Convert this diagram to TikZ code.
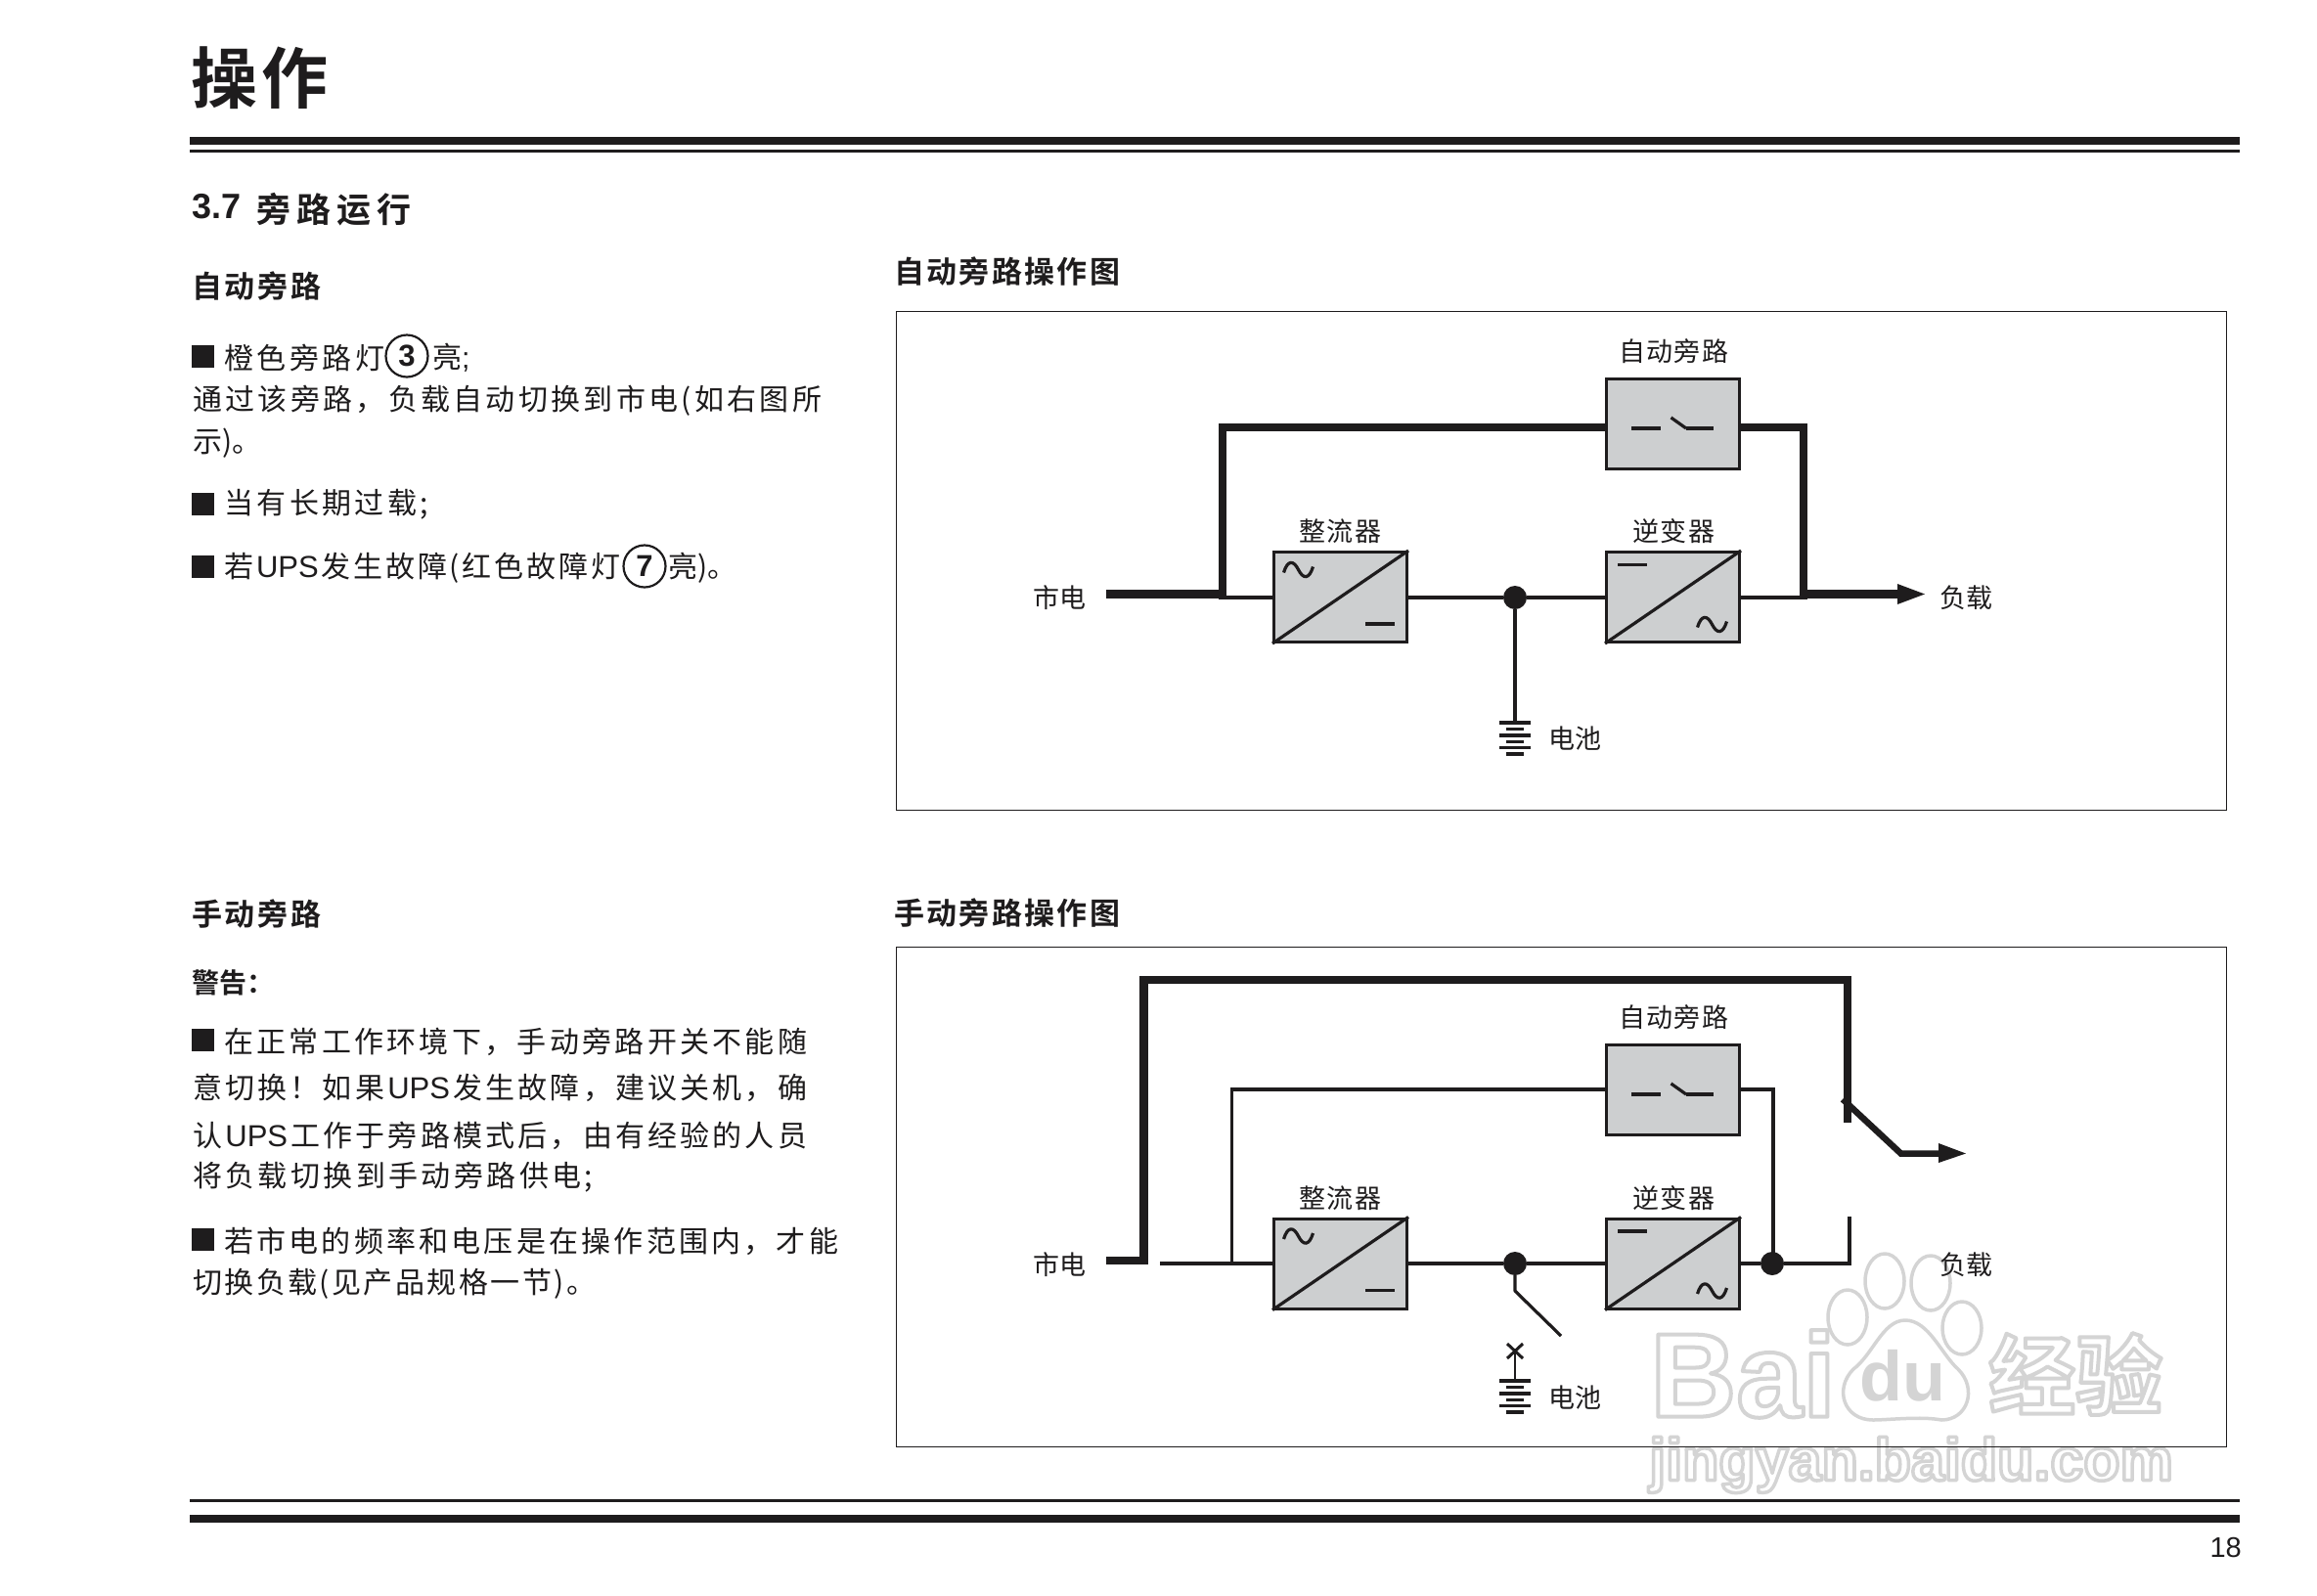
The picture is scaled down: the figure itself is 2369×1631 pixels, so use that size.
\documentclass[tikz,border=0pt]{standalone}
\usepackage{fontspec}
\setmainfont{Liberation Sans}
\newfontfamily\cjk{Noto Sans CJK SC}
\newfontfamily\cjkb{Noto Sans CJK SC Bold}
\newfontfamily\latb{Liberation Sans Bold}
\definecolor{ink}{RGB}{30,28,29}
\definecolor{boxgray}{RGB}{205,207,208}
\definecolor{wm}{RGB}{212,212,212}
\def\spreadit#1{\spreadA#1\relax}
\def\spreadA#1{#1\spreadB}
\def\spreadB#1{\ifx#1\relax\else\hskip 0pt plus 1fil\relax#1\expandafter\spreadB\fi}
\newcommand{\fcm}{\char"FF0C\relax}
\newcommand{\fex}{\char"FF01\relax}
\newcommand{\fco}{\char"FF1A\relax}
\newcommand{\tl}[5]{\node[anchor=west,inner sep=0pt,text=ink] (#1) at (#2,#3) {\fontsize{30}{30}\selectfont\cjk\makebox[#4pt][s]{\spreadit{#5}}};}
\newcommand{\hd}[5]{\node[anchor=west,inner sep=0pt,text=ink] (#1) at (#2,#3) {\fontsize{31}{31}\selectfont\cjkb\makebox[#4pt][s]{\spreadit{#5}}};}
\newcommand{\ups}{{\fontsize{31}{31}\selectfont\rmfamily UPS}}
\newcommand{\lb}[2]{\makebox[#1pt][s]{\spreadit{#2}}}
\newcommand{\sinewave}[2]{\draw[wire] (#1-15,#2+3) .. controls (#1-11,#2-10) and (#1-5,#2-10) .. (#1,#2) .. controls (#1+5,#2+10) and (#1+11,#2+10) .. (#1+15,#2-3);}
\newcommand{\wmtext}[6]{% name, x, y, size, stroke width, font+text : white text with a grey stroked rim
  \node[inner sep=0pt,text=white,anchor=west] (#1) at (#2,#3) {\fontsize{#4}{#4}\selectfont
    \special{pdf:code q 2 Tr #5 w 1 j 0.83 0.83 0.83 RG}#6\special{pdf:code Q}};}
\tikzset{
  x=1pt,y=-1pt,
  wire/.style={draw=ink,line width=3.2pt},
  thick wire/.style={draw=ink,line width=8.5pt,line cap=butt,line join=miter},
  unitbox/.style={draw=ink,fill=boxgray,line width=3pt,minimum width=136pt,minimum height=92pt,inner sep=0pt},
  lab/.style={inner sep=0pt,text=ink,font=\fontsize{27}{27}\selectfont\cjk},
  jn/.style={circle,fill=ink,draw=none,minimum size=24pt,inner sep=0pt},
  frameb/.style={draw=ink,line width=1.2pt,fill=none},
  sq/.style={fill=ink,draw=none,minimum size=23pt,inner sep=0pt},
  num/.style={circle,draw=ink,line width=2.2pt,minimum size=43pt,inner sep=0pt,text=ink,font=\fontsize{31}{31}\selectfont\latb},
  rule/.style={fill=ink,draw=none},
  bar/.style={draw=ink,line width=3.2pt},
  paw/.style={draw=wm,line width=3.5pt,fill=white},
}
\newcommand{\batt}[2]{%
  \draw[bar] (#1-16,#2) -- (#1+16,#2);
  \draw[bar] (#1-9,#2+6.3) -- (#1+9,#2+6.3);
  \draw[bar] (#1-16,#2+13) -- (#1+16,#2+13);
  \draw[bar] (#1-9,#2+19.3) -- (#1+9,#2+19.3);
  \draw[bar] (#1-16,#2+25.5) -- (#1+16,#2+25.5);
  \draw[bar] (#1-9,#2+32) -- (#1+9,#2+32);}
\newcommand{\units}[3]{% y of switch, y of converters, suffix
  \node[unitbox] (sw#3) at (1710.5,#1) {};
  \node[unitbox] (re#3) at (1370.5,#2) {};
  \node[unitbox] (iv#3) at (1710.5,#2) {};
  \draw[wire] (re#3.south west) -- (re#3.north east);
  \draw[wire] (iv#3.south west) -- (iv#3.north east);
  \draw[wire] (1668,#1+5) -- (1698,#1+5);
  \draw[wire] (1724,#1+5) -- (1752,#1+5);
  \draw[wire] (1708.5,#1-6) -- (1724,#1+5);
  \sinewave{1327.5}{#2-28}
  \draw[wire] (1396,#2+27.5) -- (1426,#2+27.5);
  \draw[wire] (1654,#2-33) -- (1684,#2-33);
  \sinewave{1750.5}{#2+28}
  \node[lab] (ls#3) at (1711,#1-74) {\lb{112}{自动旁路}};
  \node[lab] (lr#3) at (1370,#2-67) {\lb{84}{整流器}};
  \node[lab] (li#3) at (1711,#2-67) {\lb{84}{逆变器}};
  \node[lab] (lm#3) at (1083,#2+1) {\lb{54}{市电}};
  \node[lab] (ll#3) at (2010,#2+1) {\lb{54}{负载}};}
\begin{document}
\begin{tikzpicture}
\useasboundingbox (0,0) rectangle (2369,1631);
\fill[white] (0,0) rectangle (2369,1631);
% ---- watermark (lies under everything else)
\foreach \a/\b/\w/\h in {1927/1310/20/28, 1974/1312/20/28, 1889/1347/20/28, 2006/1358/20/27}
  \draw[paw] (\a,\b) ellipse ({\w pt} and {\h pt});
\draw[paw] (1948,1350) .. controls (1925,1350) and (1915,1385) .. (1895,1400) .. controls (1875,1420) and (1885,1452) .. (1915,1452) .. controls (1930,1452) and (1965,1448) .. (1985,1452) .. controls (2012,1452) and (2022,1420) .. (2002,1400) .. controls (1985,1385) and (1972,1350) .. (1948,1350) -- cycle;
\wmtext{wmBai}{1687}{1405}{122}{4}{\latb Bai}
\node[inner sep=0pt,text=wm,anchor=west] (wmdu) at (1901,1407) {\fontsize{72}{72}\selectfont\latb du};
\wmtext{wmjy}{2033}{1405}{89}{4}{\cjkb 经验}
\wmtext{wmurl}{1686}{1498}{61}{3.5}{\latb jingyan.baidu.com}
% page furniture
\node[anchor=west,inner sep=0pt,text=ink] (title) at (195,80) {\fontsize{68}{68}\selectfont\cjkb\makebox[140pt][s]{\spreadit{操作}}};
\fill[rule] (194,140) rectangle (2290,148);
\fill[rule] (194,153) rectangle (2290,156);
\fill[rule] (194,1533) rectangle (2290,1536);
\fill[rule] (194,1549) rectangle (2290,1557);
\node[anchor=east,inner sep=0pt,text=ink,font=\fontsize{29}{29}\selectfont] (pageno) at (2292,1582) {18};
\node[anchor=west,inner sep=0pt,text=ink,font=\fontsize{36}{36}\selectfont\latb] (secnum) at (196,211) {3.7};
\node[anchor=west,inner sep=0pt,text=ink] (sec) at (262,214) {\fontsize{35}{35}\selectfont\cjkb\makebox[158pt][s]{\spreadit{旁路运行}}};
\hd{h1}{196}{292}{132}{自动旁路}
\hd{h2}{914}{278}{231}{自动旁路操作图}
\hd{h3}{196}{934}{132}{手动旁路}
\hd{h4}{914}{934}{231}{手动旁路操作图}
\node[anchor=west,inner sep=0pt,text=ink] (warn) at (196,1005) {\fontsize{28}{28}\selectfont\cjkb\makebox[84pt][s]{\spreadit{警告\fco}}};
% left text, upper
\node[sq] (s1) at (207.5,364.5) {};
\tl{a1}{229}{366}{164}{橙色旁路灯}
\node[num] (n3) at (416,364) {3};
\node[anchor=west,inner sep=0pt,text=ink] (a1b) at (442,366) {\fontsize{30}{30}\selectfont\cjk 亮\rmfamily;};
\tl{a2}{197}{410}{643}{通过该旁路\fcm 负载自动切换到市电(如右图所}
\tl{a3}{197}{453}{65}{示)。}
\node[sq] (s2) at (207.5,515) {};
\tl{a4}{229}{516}{209}{当有长期过载;}
\node[sq] (s3) at (207.5,579) {};
\tl{a5}{229}{581}{405}{若\ups 发生故障(红色故障灯}
\node[num] (n7) at (659,579) {7};
\tl{a5b}{683}{581}{58}{亮)。}
% left text, lower
\node[sq] (s4) at (207.5,1063) {};
\tl{b1}{229}{1065}{596}{在正常工作环境下\fcm 手动旁路开关不能随}
\tl{b2}{197}{1112}{628}{意切换\fex 如果\ups 发生故障\fcm 建议关机\fcm 确}
\tl{b3}{197}{1161}{628}{认\ups 工作于旁路模式后\fcm 由有经验的人员}
\tl{b4}{197}{1204}{409}{将负载切换到手动旁路供电;}
\node[sq] (s5) at (207.5,1267) {};
\tl{b5}{229}{1269}{628}{若市电的频率和电压是在操作范围内\fcm 才能}
\tl{b6}{197}{1313}{412}{切换负载(见产品规格一节)。}
% frames
\node[frameb,anchor=north west,minimum width=1360pt,minimum height=510pt,inner sep=0pt] (f1) at (916,318) {};
\node[frameb,anchor=north west,minimum width=1360pt,minimum height=511pt,inner sep=0pt] (f2) at (916,968) {};
% ---- automatic diagram
\node[jn] (d1) at (1549,611) {};
\coordinate (mainsA) at (1131,607.5);
\coordinate (tapA) at (1249.5,611);
\coordinate (tapB) at (1843.5,611);
\coordinate (outA) at (1968,607.5);
\coordinate (batA) at (1549,738);
\draw[wire] (tapA) -- (1302,611);
\draw[wire] (1439,611) -- (d1) -- (1642,611);
\draw[wire] (1779,611) -- (tapB);
\draw[wire] (d1) -- (batA);
\draw[draw=ink,line width=8pt] (1249.5,613) -- (1249.5,436.5) -- (1642,436.5);
\draw[draw=ink,line width=8pt] (1779,436.5) -- (1843.5,436.5) -- (1843.5,613);
\draw[thick wire] (mainsA) -- (1249.5,607.5);
\draw[thick wire] (1840,607.5) -- (1942,607.5);
\fill[ink] (1940,597) -- (outA) -- (1940,618) -- cycle;
\units{433}{610.5}{A}
\node[lab] (lbA) at (1610,755) {\lb{54}{电池}};
\batt{1549}{739}
% ---- manual diagram
\node[jn] (d2) at (1549,1292) {};
\node[jn] (d3) at (1812,1292) {};
\coordinate (mainsB) at (1131,1289);
\coordinate (mainC) at (1186,1292);
\coordinate (loadB) at (1891,1244);
\draw[wire] (mainC) -- (1302,1292);
\draw[wire] (1439,1292) -- (d2) -- (1642,1292);
\draw[wire] (1779,1292) -- (d3) -- (1891,1292) -- (loadB);
\draw[wire] (1259.5,1292) -- (1259.5,1114) -- (1642,1114);
\draw[wire] (1779,1114) -- (1813,1114) -- (1813,1292);
\draw[wire,line join=round] (d2) -- (1549,1320) -- (1596,1366);
\draw[draw=ink,line width=8.5pt,line join=miter] (mainsB) -- (1169.5,1289) -- (1169.5,1002) -- (1889,1002) -- (1889,1148);
\draw[draw=ink,line width=6.5pt,line join=miter] (1884,1124) -- (1943.5,1179.5) -- (1985,1179.5);
\fill[ink] (1982,1169) -- (2010,1179.5) -- (1982,1189) -- cycle;
\units{1114}{1292}{B}
\draw[draw=ink,line width=2.5pt] (1549,1381) -- (1549,1412);
\draw[draw=ink,line width=3pt] (1541,1374) -- (1557,1389) (1557,1374) -- (1541,1389);
\node[lab] (lbB) at (1610,1429) {\lb{54}{电池}};
\batt{1549}{1412}
\end{tikzpicture}
\end{document}
